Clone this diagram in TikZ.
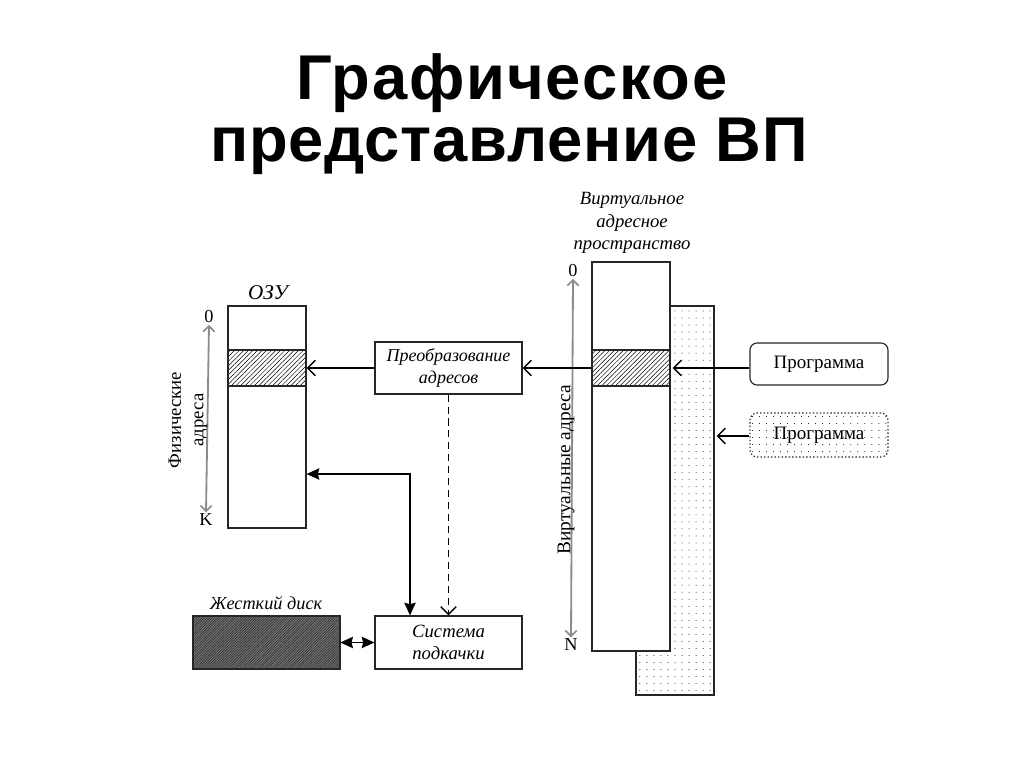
\documentclass[tikz,border=0pt]{standalone}
\usepackage{fontspec}
\setmainfont{Liberation Serif}
\newfontfamily\titlefont[LetterSpace=3]{Liberation Sans}
\newfontfamily\titlefontb[LetterSpace=1.2]{Liberation Sans}
\usetikzlibrary{arrows.meta,patterns.meta,calc}
\newcommand\pxu{0.025cm}
\tikzset{
  box/.style={draw=black!85,line width=0.8pt,fill=white,inner sep=0pt,font=\fontsize{12.8}{15.5}\selectfont\itshape,align=center},
  rbox/.style={draw=black!85,line width=0.8pt,fill=white,rounded corners=5pt,inner sep=0pt,font=\fontsize{13.5}{15}\selectfont},
  openarr/.style={line width=1pt,-{Straight Barb[length=5.5pt,width=11pt,line width=1pt]}},
  bothfill/.style={line width=1.3pt,{Stealth[length=9pt,width=8pt,inset=1pt]}-{Stealth[length=9pt,width=8pt,inset=1pt]}},
  grayarr/.style={draw=black!45,line width=1.3pt,{Straight Barb[length=4pt,width=8pt,line width=1.2pt]}-{Straight Barb[length=4pt,width=8pt,line width=1.2pt]}},
  lbl/.style={font=\fontsize{13}{15}\selectfont,inner sep=1pt},
  hatch/.style={pattern={Lines[angle=45,distance=2.3pt,line width=0.35pt]}},
  dotfill/.style={pattern={Dots[distance=5pt,radius=0.35pt]}},
}
\begin{document}
\begin{tikzpicture}[x=0.025cm,y=-0.025cm]
\useasboundingbox (0,0) rectangle (1024,768);
% title
\node[font=\titlefont\bfseries\fontsize{45}{50}\selectfont,anchor=base] (t1) at (512,100) {Графическое};
\node[font=\titlefontb\bfseries\fontsize{45}{50}\selectfont,anchor=base] (t2) at (509,162) {представление ВП};

% ОЗУ
\node[box,minimum width=78*\pxu,minimum height=222*\pxu] (ozu) at (267,417) {};
\draw[line width=0.8pt,draw=black!85,hatch] (228,350) rectangle (306,386);
\node[lbl,font=\fontsize{15}{17}\selectfont\itshape] (ozul) at (268,293) {ОЗУ};
\node[lbl] (p0) at (209,317) {0};
\node[lbl] (pk) at (206,520) {K};
\draw[grayarr] (p0.south) -- (pk.north);
\node[lbl,rotate=90,align=center,font=\fontsize{13.3}{16}\selectfont] (phys) at (188,420) {Физические\\адреса};

% Преобразование адресов
\node[box,minimum width=147*\pxu,minimum height=52*\pxu] (conv) at (448.5,368) {Преобразование\\адресов};
% Система подкачки
\node[box,minimum width=147*\pxu,minimum height=53*\pxu,font=\fontsize{13.3}{16}\selectfont\itshape] (swap) at (448.5,642.5) {Система\\подкачки};
% Жесткий диск
\node[draw=black!85,line width=0.8pt,minimum width=147*\pxu,minimum height=53*\pxu,
      preaction={fill=black!55},pattern={Lines[angle=45,distance=1.3pt,line width=0.35pt]},pattern color=black!85] (disk) at (266.5,642.5) {};
\node[lbl,font=\fontsize{13}{15}\selectfont\itshape] (diskl) at (266,603) {Жесткий диск};

% virtual address spaces
\node[draw=black!85,line width=0.8pt,minimum width=78*\pxu,minimum height=389*\pxu,inner sep=0pt,preaction={fill=white},dotfill] (vas2) at (675,500.5) {};
\node[box,minimum width=78*\pxu,minimum height=389*\pxu] (vas) at (631,456.5) {};
\draw[line width=0.8pt,draw=black!85,hatch] (592,350) rectangle (670,386);
\node[lbl,align=center,font=\fontsize{13.3}{16}\selectfont\itshape] (vasl) at (632,223) {Виртуальное\\адресное\\пространство};
\node[lbl] (v0) at (573,271) {0};
\node[lbl] (vn) at (571,645) {N};
\draw[grayarr] (v0.south) -- (vn.north);
\node[lbl,rotate=90,font=\fontsize{13.8}{15}\selectfont] (virt) at (566,470) {Виртуальные адреса};

% programs
\node[rbox,minimum width=138*\pxu,minimum height=42*\pxu] (prog1) at (819,364) {Программа};
\node[rbox,minimum width=138*\pxu,minimum height=44*\pxu,dash pattern=on 1pt off 1.5pt,preaction={fill=white},dotfill] (prog2) at (819,435) {};
\node[lbl,font=\fontsize{13.5}{15}\selectfont] (prog2l) at (prog2) {Программа};

% connectors
\draw[openarr] (conv.west) -- (conv.west -| ozu.east);
\draw[openarr] (conv.east -| vas.west) -- (conv.east);
\draw[openarr] (prog1.west |- 0,368) -- ($(vas.east |- 0,368)+(2,0)$);
\draw[openarr] (prog2.west |- 0,436) -- ($(vas2.east |- 0,436)+(2,0)$);
\draw[line width=1pt,dash pattern=on 5pt off 3.5pt,-{Straight Barb[length=5.5pt,width=11pt,line width=1pt]}] (conv.south) -- (swap.north);
\draw[bothfill] ([xshift=-38.5*\pxu]swap.north) |- (ozu.east |- 0,474);
\draw[bothfill] (disk.east) -- (swap.west);
\end{tikzpicture}
\end{document}
